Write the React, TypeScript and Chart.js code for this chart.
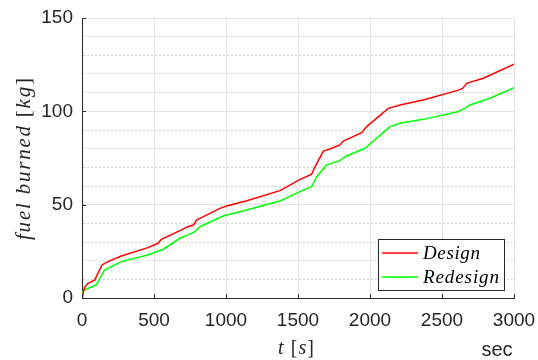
import React, { useEffect, useRef } from "react";
import { Chart, registerables } from "chart.js";

Chart.register(...registerables);

// ---- data ----
const designT = [0, 18, 42, 88, 139, 180, 273, 458, 528, 551, 680, 736, 773, 796, 843, 958, 1005, 1144, 1375, 1444, 1502, 1595, 1618, 1676, 1722, 1792, 1815, 1942, 1977, 2127, 2208, 2370, 2602, 2644, 2671, 2787, 3000];
const designFuel = [0, 5.7, 7.9, 9.6, 17.7, 19.5, 22.5, 27, 29.3, 31.4, 36.1, 38.2, 39.1, 41.8, 43.6, 48, 49.3, 52.1, 57.5, 60.5, 63, 66.3, 70.3, 78.7, 79.8, 82, 84.1, 88.6, 91.8, 101.6, 103.4, 106.1, 111.1, 112.3, 115, 117.7, 125.2];

const redesignT = [0, 5, 18, 99, 157, 273, 458, 516, 562, 680, 736, 784, 819, 981, 1144, 1375, 1502, 1549, 1595, 1630, 1699, 1792, 1826, 1965, 2139, 2208, 2370, 2602, 2660, 2694, 2833, 3000];
const redesignFuel = [0, 3.5, 4.3, 7, 15, 19.5, 23, 24.8, 26, 32, 33.8, 35.5, 38.2, 43.9, 47.1, 52, 56.6, 58.2, 59.6, 65, 71.3, 73.6, 75.7, 80.2, 91.8, 93.6, 95.7, 99.6, 101.6, 103.4, 107, 112.7];

const seriesLabels = ["Design", "Redesign"];
const seriesColors = ["#ff0000", "#00ff00"];

const xTicks = [0, 500, 1000, 1500, 2000, 2500, 3000];
const yMajorTicks = [0, 50, 100, 150];
const yMinorTicks = [0, 10, 20, 30, 40, 50, 60, 70, 80, 90, 100, 110, 120, 130, 140, 150];

const xMin = 0, xMax = 3000, yMin = 0, yMax = 150;

// ---- styles ----
const axisColor = "#262626";
const gridColor = "#e3e3e3";
const minorGridColor = "#d6d6d6";
const sansFamily = "'Liberation Sans', Arial, Helvetica, sans-serif";
const serifFamily = "'Liberation Serif', 'Times New Roman', serif";

type Part = [string, boolean];

function drawSpaced(
  ctx: CanvasRenderingContext2D,
  parts: Part[],
  size: number,
  x: number,
  y: number,
  targetWidth: number,
  align: "center" | "left"
) {
  const chars: { c: string; font: string }[] = [];
  parts.forEach(([text, italic]) => {
    for (const c of text) chars.push({ c, font: `${italic ? "italic " : ""}${size}px ${serifFamily}` });
  });
  const widths = chars.map((ch) => {
    ctx.font = ch.font;
    return ctx.measureText(ch.c).width;
  });
  const natural = widths.reduce((a, b) => a + b, 0);
  const extra = chars.length > 1 ? (targetWidth - natural) / (chars.length - 1) : 0;
  let cx = align === "center" ? x - targetWidth / 2 : x;
  ctx.textAlign = "left";
  ctx.textBaseline = "alphabetic";
  chars.forEach((ch, i) => {
    ctx.font = ch.font;
    ctx.fillText(ch.c, cx, y);
    cx += widths[i] + extra;
  });
}

const decorPlugin = {
  id: "decor",
  afterDraw(chart: any) {
    const ctx: CanvasRenderingContext2D = chart.ctx;
    const area = chart.chartArea;
    const xs = chart.scales.x;
    const ys = chart.scales.y;
    ctx.save();

    // inner tick marks
    ctx.strokeStyle = axisColor;
    ctx.lineWidth = 1;
    ctx.beginPath();
    xTicks.forEach((v) => {
      const px = Math.round(xs.getPixelForValue(v)) + 0.5;
      ctx.moveTo(px, area.bottom);
      ctx.lineTo(px, area.bottom - 4);
    });
    yMajorTicks.forEach((v) => {
      const py = Math.round(ys.getPixelForValue(v)) + 0.5;
      ctx.moveTo(area.left, py);
      ctx.lineTo(area.left + 4, py);
    });
    ctx.stroke();

    // axis titles
    ctx.fillStyle = axisColor;
    const cxTitle = (area.left + area.right) / 2;
    drawSpaced(ctx, [["t", true], [" [", false], ["s", true], ["]", false]], 20, cxTitle - 2, 354, 36, "center");

    ctx.save();
    ctx.translate(30, (area.top + area.bottom) / 2 + 1);
    ctx.rotate(-Math.PI / 2);
    drawSpaced(
      ctx,
      [["fuel burned ", true], ["[", false], ["kg", true], ["]", false]],
      21,
      0,
      0,
      162,
      "center"
    );
    ctx.restore();

    // "sec" unit label
    ctx.font = `20px ${sansFamily}`;
    ctx.textAlign = "center";
    ctx.textBaseline = "alphabetic";
    ctx.fillText("sec", 497, 356);

    // legend box
    const lx = 378, ly = 239, lw = 126, lh = 51;
    ctx.fillStyle = "#ffffff";
    ctx.fillRect(lx, ly, lw, lh);
    ctx.strokeStyle = axisColor;
    ctx.lineWidth = 1;
    ctx.strokeRect(lx + 0.5, ly + 0.5, lw, lh);
    chart.data.datasets.forEach((ds: any, i: number) => {
      const y = 253 + i * 24;
      ctx.strokeStyle = ds.borderColor;
      ctx.lineWidth = 1.5;
      ctx.beginPath();
      ctx.moveTo(382, y);
      ctx.lineTo(418, y);
      ctx.stroke();
      ctx.fillStyle = "#000000";
      const label: string = ds.label;
      const target = label === "Redesign" ? 76 : 57;
      drawSpaced(ctx, [[label, true]], 19, 423, y + 6, target, "left");
    });

    ctx.restore();
  },
};

export default function App() {
  const canvasRef = useRef<HTMLCanvasElement | null>(null);

  useEffect(() => {
    const canvas = canvasRef.current;
    if (!canvas) return;
    const chart = new Chart(canvas, {
      type: "scatter",
      data: {
        datasets: [
          {
            label: seriesLabels[0],
            data: designT.map((t, i) => ({ x: t, y: designFuel[i] })),
            borderColor: seriesColors[0],
            backgroundColor: seriesColors[0],
            showLine: true,
            pointRadius: 0,
            borderWidth: 1.5,
            tension: 0,
          },
          {
            label: seriesLabels[1],
            data: redesignT.map((t, i) => ({ x: t, y: redesignFuel[i] })),
            borderColor: seriesColors[1],
            backgroundColor: seriesColors[1],
            showLine: true,
            pointRadius: 0,
            borderWidth: 1.5,
            tension: 0,
          },
        ],
      },
      options: {
        animation: false,
        responsive: false,
        maintainAspectRatio: false,
        layout: { padding: { top: 18, right: 24, left: 0, bottom: 0 } },
        plugins: {
          legend: { display: false },
          tooltip: { enabled: false },
        },
        scales: {
          x: {
            type: "linear",
            min: xMin,
            max: xMax,
            afterBuildTicks: (s: any) => {
              s.ticks = xTicks.map((v) => ({ value: v }));
            },
            afterFit: (s: any) => {
              s.height = 62;
              s.paddingLeft = 0;
              s.paddingRight = 0;
            },
            ticks: {
              autoSkip: false,
              maxRotation: 0,
              padding: 11,
              color: axisColor,
              font: { family: sansFamily, size: 19 },
              callback: (v: any) => String(v),
            },
            grid: { color: gridColor, lineWidth: 1, drawTicks: false },
            border: { color: axisColor, width: 1 },
          },
          y: {
            type: "linear",
            min: yMin,
            max: yMax,
            afterBuildTicks: (s: any) => {
              s.ticks = yMinorTicks.map((v) => ({ value: v }));
            },
            afterFit: (s: any) => {
              s.width = 82;
              s.paddingTop = 0;
              s.paddingBottom = 0;
            },
            ticks: {
              autoSkip: false,
              padding: 9,
              color: axisColor,
              font: { family: sansFamily, size: 19 },
              callback: (v: any) => (yMajorTicks.includes(Number(v)) ? String(v) : ""),
            },
            grid: {
              drawTicks: false,
              lineWidth: 1,
              color: (c: any) =>
                c.tick && yMajorTicks.includes(c.tick.value) ? gridColor : minorGridColor,
            },
            border: {
              color: axisColor,
              width: 1,
              dash: (c: any) =>
                c.tick && !yMajorTicks.includes(c.tick.value) ? [2, 2] : [],
            },
          },
        },
      } as any,
      plugins: [decorPlugin],
    });
    return () => chart.destroy();
  }, []);

  return (
    <div style={{ position: "absolute", left: 0, top: 0, width: 538, height: 360, background: "#ffffff" }}>
      <canvas ref={canvasRef} width={538} height={360} style={{ display: "block", width: 538, height: 360 }} />
    </div>
  );
}
